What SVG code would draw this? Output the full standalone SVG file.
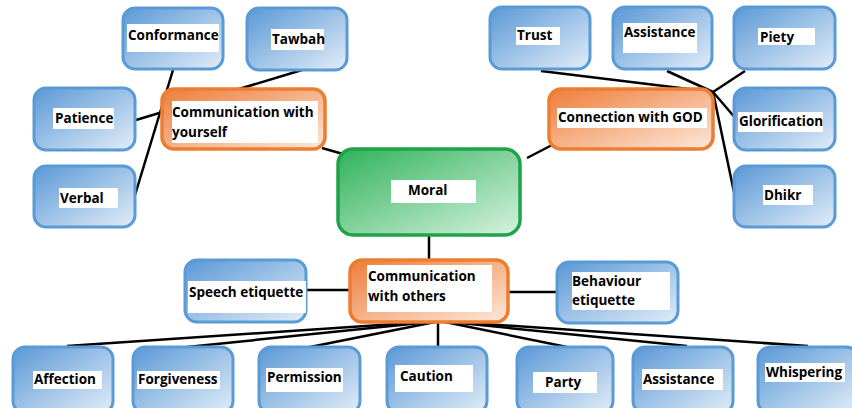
<svg xmlns="http://www.w3.org/2000/svg" width="852" height="408" viewBox="0 0 852 408">
<defs>
<linearGradient id="gb" x1="0" y1="0" x2="1" y2="1">
<stop offset="0" stop-color="#5a98d6"/><stop offset="1" stop-color="#e2edf8"/>
</linearGradient>
<linearGradient id="go" x1="0" y1="0" x2="1" y2="1">
<stop offset="0" stop-color="#ee7d3a"/><stop offset="1" stop-color="#fde8da"/>
</linearGradient>
<linearGradient id="gg" x1="0" y1="0" x2="1" y2="1">
<stop offset="0" stop-color="#30b25a"/><stop offset="1" stop-color="#d6f2df"/>
</linearGradient>
<style>
.b{fill:url(#gb);stroke:#5b9bd5;stroke-width:3}
.o{fill:url(#go);stroke:#ed7d31;stroke-width:3.5}
.g{fill:url(#gg);stroke:#1fa34a;stroke-width:3.5}
.w{fill:#ffffff}
text{font-family:"Open Sans","Liberation Sans",sans-serif;font-weight:bold;font-size:13.5px;fill:#000}
.c line{stroke:#000;stroke-width:2.5}
</style>
</defs>
<rect width="852" height="408" fill="#ffffff"/>
<g class="c">
<line x1="173" y1="70" x2="135" y2="195"/>
<line x1="302" y1="70" x2="136" y2="120"/>
<line x1="322" y1="148" x2="350" y2="156"/>
<line x1="552" y1="145" x2="527" y2="158"/>
<line x1="541" y1="71" x2="713" y2="92"/>
<line x1="667" y1="71" x2="713" y2="92"/>
<line x1="745" y1="71" x2="713" y2="92"/>
<line x1="713" y1="92" x2="737" y2="120"/>
<line x1="713" y1="92" x2="735" y2="197"/>
<line x1="429" y1="235" x2="429" y2="260"/>
<line x1="306" y1="290" x2="350" y2="290"/>
<line x1="508" y1="292" x2="557" y2="292"/>
<line x1="440" y1="321" x2="67" y2="346"/>
<line x1="440" y1="321" x2="187" y2="347"/>
<line x1="440" y1="321" x2="310" y2="347"/>
<line x1="438" y1="321" x2="438" y2="347"/>
<line x1="440" y1="321" x2="567" y2="347"/>
<line x1="440" y1="321" x2="687" y2="346"/>
<line x1="440" y1="321" x2="808" y2="346"/>
</g>
<g id="conformance"><rect class="b" x="123" y="8" width="100" height="61" rx="12"/><rect class="w" x="127" y="24" width="92" height="28"/><text x="128" y="40">Conformance</text></g>
<g id="tawbah"><rect class="b" x="247" y="8" width="100" height="62" rx="12"/><rect class="w" x="271" y="29" width="53" height="21"/><text x="272" y="44">Tawbah</text></g>
<g id="patience"><rect class="b" x="34" y="88" width="101" height="62" rx="12"/><rect class="w" x="53" y="108" width="61" height="21"/><text x="55" y="123">Patience</text></g>
<g id="verbal"><rect class="b" x="34" y="166" width="101" height="61" rx="12"/><rect class="w" x="59" y="188" width="59" height="20"/><text x="60" y="203">Verbal</text></g>
<g id="comm-yourself"><rect class="o" x="162" y="89" width="163" height="60" rx="12"/><rect class="w" x="172" y="101" width="146" height="42"/><text x="172" y="117">Communication with</text><text x="172" y="137">yourself</text></g>
<g id="trust"><rect class="b" x="490" y="7" width="100" height="62" rx="12"/><rect class="w" x="516" y="27" width="44" height="18"/><text x="517" y="40">Trust</text></g>
<g id="assistance-top"><rect class="b" x="613" y="7" width="99" height="62" rx="12"/><rect class="w" x="623" y="23" width="74" height="30"/><text x="624" y="37">Assistance</text></g>
<g id="piety"><rect class="b" x="734" y="7" width="101" height="62" rx="12"/><rect class="w" x="758" y="28" width="57" height="17"/><text x="760" y="42">Piety</text></g>
<g id="glorification"><rect class="b" x="734" y="88" width="101" height="62" rx="12"/><rect class="w" x="738" y="112" width="85" height="20"/><text x="739" y="126">Glorification</text></g>
<g id="dhikr"><rect class="b" x="734" y="166" width="101" height="61" rx="12"/><rect class="w" x="763" y="185" width="50" height="20"/><text x="764" y="200">Dhikr</text></g>
<g id="conn-god"><rect class="o" x="549" y="89" width="164" height="60" rx="12"/><rect class="w" x="557" y="108" width="150" height="20"/><text x="558" y="122">Connection with GOD</text></g>
<g id="moral"><rect class="g" x="338" y="149" width="182" height="86" rx="15"/><rect class="w" x="391" y="180" width="85" height="23"/><text x="408" y="195">Moral</text></g>
<g id="comm-others"><rect class="o" x="350" y="260" width="158" height="62" rx="12"/><rect class="w" x="367" y="265" width="125" height="47"/><text x="368" y="281">Communication</text><text x="368" y="301">with others</text></g>
<g id="speech"><rect class="b" x="185" y="260" width="121" height="62" rx="12"/><rect class="w" x="188" y="281" width="118" height="32"/><text x="189" y="297">Speech etiquette</text></g>
<g id="behaviour"><rect class="b" x="557" y="262" width="121" height="61" rx="12"/><rect class="w" x="572" y="272" width="98" height="38"/><text x="572" y="286">Behaviour</text><text x="572" y="305">etiquette</text></g>
<g id="affection"><rect class="b" x="13" y="347" width="100" height="66" rx="12"/><rect class="w" x="33" y="371" width="69" height="18"/><text x="34" y="384">Affection</text></g>
<g id="forgiveness"><rect class="b" x="133" y="347" width="100" height="66" rx="12"/><rect class="w" x="137" y="371" width="83" height="18"/><text x="138" y="384">Forgiveness</text></g>
<g id="permission"><rect class="b" x="259" y="347" width="101" height="66" rx="12"/><rect class="w" x="266" y="368" width="77" height="24"/><text x="267" y="382">Permission</text></g>
<g id="caution"><rect class="b" x="387" y="347" width="100" height="66" rx="12"/><rect class="w" x="395" y="365" width="78" height="27"/><text x="400" y="381">Caution</text></g>
<g id="party"><rect class="b" x="517" y="347" width="96" height="66" rx="12"/><rect class="w" x="533" y="372" width="64" height="21"/><text x="545" y="387">Party</text></g>
<g id="assistance-bottom"><rect class="b" x="633" y="347" width="100" height="66" rx="12"/><rect class="w" x="642" y="369" width="81" height="21"/><text x="643" y="384">Assistance</text></g>
<g id="whispering"><rect class="b" x="758" y="347" width="100" height="66" rx="12"/><rect class="w" x="765" y="363" width="80" height="19"/><text x="766" y="377">Whispering</text></g>
</svg>
